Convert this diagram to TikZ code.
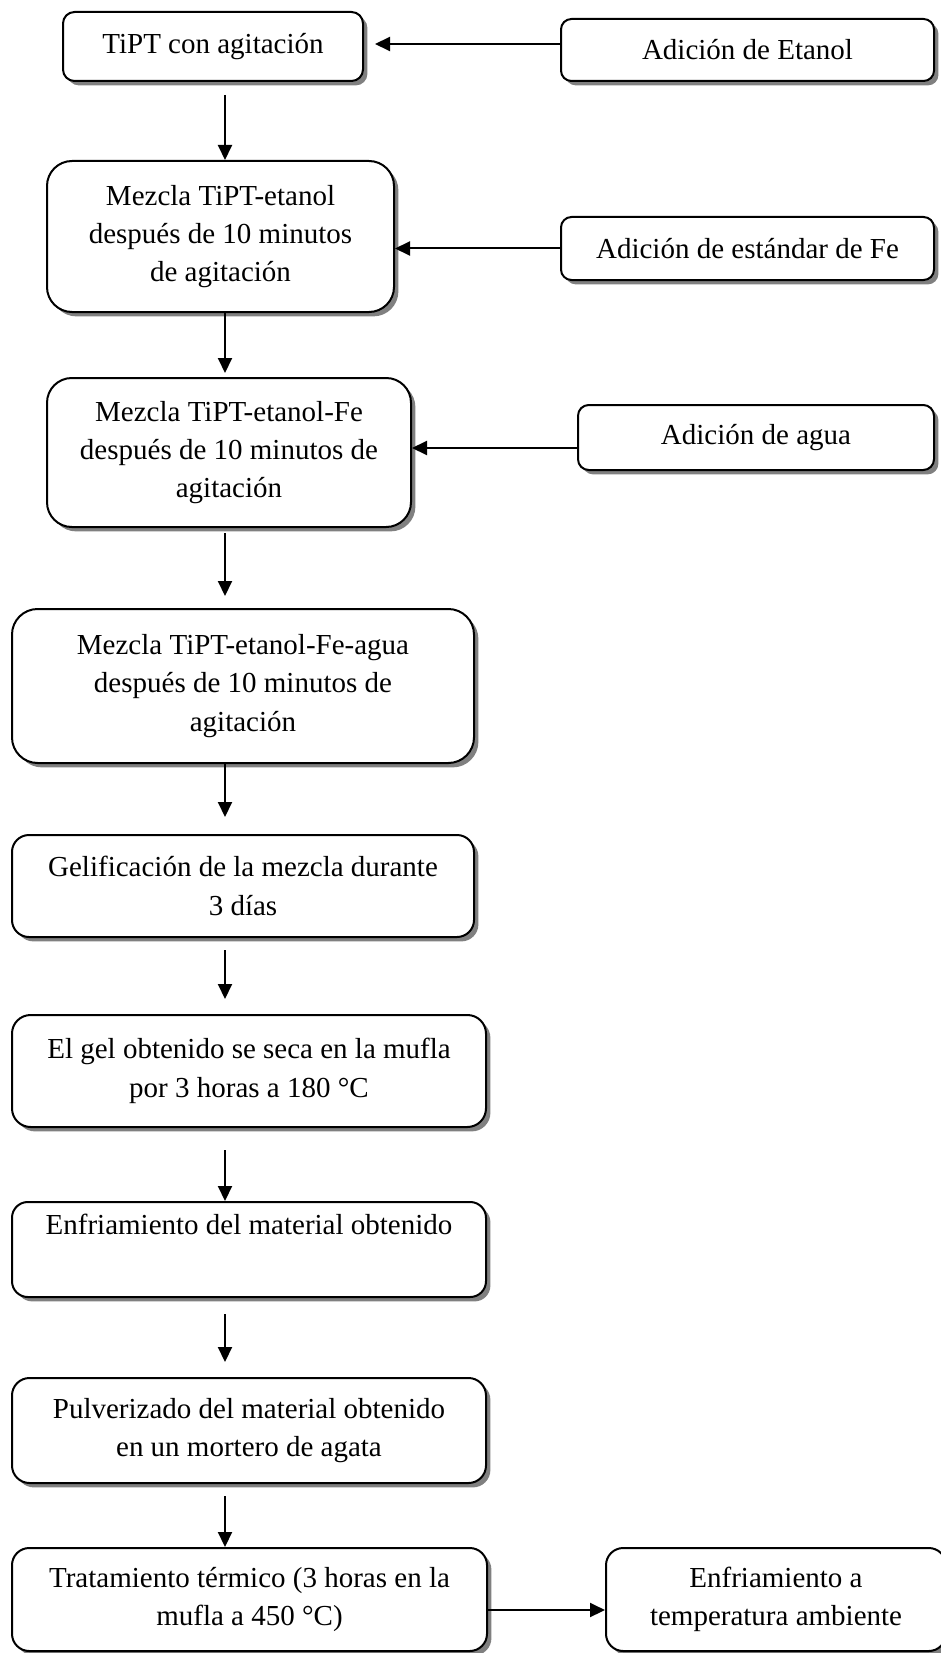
\documentclass[tikz,border=0pt]{standalone}
\usepackage{fontspec}
\setmainfont{Liberation Serif}
\usetikzlibrary{arrows.meta,positioning,shadows}

\begin{document}
\begin{tikzpicture}[
  x=0.5pt, y=-0.5pt,
  caja/.style={rectangle, draw, line width=1pt, fill=white, align=center,
    inner sep=2pt, font=\fontsize{14.5pt}{19.2pt}\selectfont,
    drop shadow={shadow xshift=2.2pt, shadow yshift=-2.2pt, fill=black!50, opacity=1}},
  flecha/.style={-{Triangle[length=7.5pt,width=7pt]}, line width=1pt}
]
  \useasboundingbox (0,0) rectangle (941,1653);
  \coordinate (eje) at (225,0);

  % columna principal
  \node[caja, minimum width=150pt, minimum height=34.5pt, rounded corners=5.75pt] (tipt) at (213,46.5) {TiPT con agitación};
  \node[caja, minimum width=173.5pt, minimum height=75.5pt, rounded corners=12.5pt] (mezEt) at (220.5,236.5) {Mezcla TiPT-etanol\\después de 10 minutos\\de agitación};
  \node[caja, minimum width=182pt, minimum height=74.5pt, rounded corners=12.4pt] (mezFe) at (229,452.5) {Mezcla TiPT-etanol-Fe\\después de 10 minutos de\\agitación};
  \node[caja, minimum width=231pt, minimum height=77pt, rounded corners=12.8pt] (mezAg) at (243,686) {Mezcla TiPT-etanol-Fe-agua\\después de 10 minutos de\\agitación};
  \node[caja, minimum width=231pt, minimum height=51pt, rounded corners=8.5pt] (gel) at (243,886) {Gelificación de la mezcla durante\\3 días};
  \node[caja, minimum width=237pt, minimum height=56pt, rounded corners=9.3pt] (seca) at (249,1071) {El gel obtenido se seca en la mufla\\por 3 horas a 180 °C};
  \node[caja, minimum width=237pt, minimum height=47.5pt, rounded corners=7.9pt] (enfr) at (249,1249.5) {Enfriamiento del material obtenido\\\strut};
  \node[caja, minimum width=237pt, minimum height=52.5pt, rounded corners=8.75pt] (pulv) at (249,1430.5) {Pulverizado del material obtenido\\en un mortero de agata};
  \node[caja, minimum width=237.5pt, minimum height=51.5pt, rounded corners=8.6pt] (trat) at (249.5,1599.5) {Tratamiento térmico (3 horas en la\\mufla a 450 °C)};

  % adiciones
  \node[caja, minimum width=186.5pt, minimum height=31pt, rounded corners=5.2pt] (etanol) at (747.5,50) {Adición de Etanol};
  \node[caja, minimum width=186.5pt, minimum height=31.5pt, rounded corners=5.25pt] (fe) at (747.5,248.5) {Adición de estándar de Fe};
  \node[caja, minimum width=178pt, minimum height=32.5pt, rounded corners=5.4pt] (agua) at (756,437.5) {Adición de agua};
  \node[caja, minimum width=170pt, minimum height=51.5pt, rounded corners=8.6pt] (amb) at (776,1599.5) {Enfriamiento a\\temperatura ambiente};

  % flechas verticales
  \draw[flecha, shorten <=6.5pt] (tipt.south -| eje) -- (mezEt.north -| eje);
  \draw[flecha] (mezEt.south -| eje) -- ([yshift=2pt]mezFe.north -| eje);
  \draw[flecha, shorten <=2.5pt, shorten >=6pt] (mezFe.south -| eje) -- (mezAg.north -| eje);
  \draw[flecha, shorten >=8.5pt] (mezAg.south -| eje) -- (gel.north -| eje);
  \draw[flecha, shorten <=6pt, shorten >=7.5pt] (gel.south -| eje) -- (seca.north -| eje);
  \draw[flecha, shorten <=11pt] (seca.south -| eje) -- (enfr.north -| eje);
  \draw[flecha, shorten <=8pt, shorten >=7.5pt] (enfr.south -| eje) -- (pulv.north -| eje);
  \draw[flecha, shorten <=6pt] (pulv.south -| eje) -- (trat.north -| eje);

  % flechas horizontales
  \coordinate (e1) at ([yshift=3pt]etanol.west);
  \draw[flecha, shorten >=5.5pt] (e1) -- (e1 -| tipt.east);
  \draw[flecha] (fe.west) -- (fe.west -| mezEt.east);
  \coordinate (e3) at ([yshift=-5.25pt]agua.west);
  \draw[flecha] (e3) -- (e3 -| mezFe.east);
  \coordinate (e4) at ([yshift=-5.25pt]trat.east);
  \draw[flecha] (e4) -- (e4 -| amb.west);
\end{tikzpicture}
\end{document}
